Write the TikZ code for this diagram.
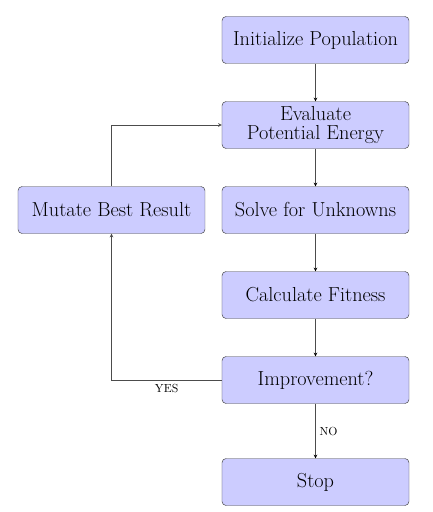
\documentclass[tikz,border=0pt]{standalone}
\usetikzlibrary{positioning, arrows}

\tikzset{
  stepbox/.style={rectangle, rounded corners=3.5pt, draw=black!75, fill=blue!20,
    minimum width=5.61cm, minimum height=1.41cm, align=center,
    font=\fontsize{17.3}{15.5}\selectfont},
  flow/.style={->, >=stealth, draw=black!70, thin},
  tag/.style={font=\fontsize{10}{11}\selectfont}
}

\begin{document}
\begin{tikzpicture}[node distance=2.55cm, on grid, auto]
   \useasboundingbox (-9.465,1.2) rectangle (3.495,-14.16);
   \node[stepbox] (init) {Initialize Population};
   \node[stepbox] (eval) [below=of init] {Evaluate\\Potential Energy};
   \node[stepbox] (solve) [below=of eval] {Solve for Unknowns};
   \node[stepbox] (fit) [below=of solve] {Calculate Fitness};
   \node[stepbox] (impr) [below=of fit] {Improvement?};
   \node[stepbox] (stop) [below=3.06cm of impr] {Stop};
   \node[stepbox] (mutate) [left=6.12cm of solve] {Mutate Best Result};

   \path[flow]
    (init) edge (eval)
    (eval) edge (solve)
    (solve) edge (fit)
    (fit) edge (impr)
    (impr) edge node [tag, right] {NO} (stop);
   \draw[flow] (impr.west) -| node [tag, below, pos=0.25] {YES} (mutate.south);
   \draw[flow] (mutate.north) |- (eval.west);
\end{tikzpicture}
\end{document}
